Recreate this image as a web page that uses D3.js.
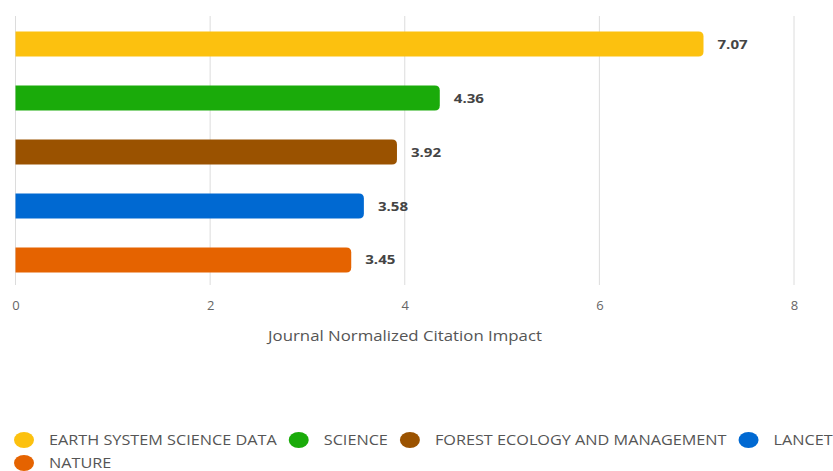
<!DOCTYPE html>
<html><head><meta charset="utf-8">
<script src="https://cdn.jsdelivr.net/npm/d3@7"></script>
<style>body{margin:0;background:#fff}svg{display:block}</style>
</head><body>
<svg id="chart" width="833" height="471"></svg>
<script>
const categories = ["EARTH SYSTEM SCIENCE DATA","SCIENCE","FOREST ECOLOGY AND MANAGEMENT","LANCET","NATURE"];
const values = [7.07, 4.36, 3.92, 3.58, 3.45];
const colors = ["#fcc10f","#1aab0a","#9a5200","#0069d2","#e56300"];
const xTicks = [0,2,4,6,8];
const xTitle = "Journal Normalized Citation Impact";

const svg = d3.select("#chart");
const font = "'Open Sans', 'Noto Sans', sans-serif";
const x = d3.scaleLinear().domain([0,8]).range([15.5, 794]);
const y = d3.scaleBand().domain(categories).range([17, 287]).paddingInner(0.537).paddingOuter(0.27);
const sx = 1.16;

// grid
svg.append("g").selectAll("line").data(xTicks).join("line")
  .attr("x1", d=>x(d)).attr("x2", d=>x(d)).attr("y1", 16).attr("y2", 285)
  .attr("stroke", "#dcdcdc").attr("stroke-width", 1);

// axis labels
const ax = d3.axisBottom(x).tickValues(xTicks).tickSize(0).tickPadding(0);
const axg = svg.append("g").attr("transform", "translate(0,301)").call(ax);
axg.select(".domain").remove();
axg.selectAll("text").attr("font-family", font).attr("font-size", 13).attr("fill", "#666").attr("dy", "0.71em");

svg.append("text").attr("transform", "translate(405,341) scale(1.2,1)").attr("text-anchor", "middle")
  .attr("font-family", font).attr("font-size", 14).attr("fill", "#555").text(xTitle);

// bars with rounded right end
const r = 5;
function barPath(d, i){
  const x0 = x(0), x1 = x(d), y0 = y(categories[i]), h = y.bandwidth();
  return `M${x0},${y0}H${x1-r}Q${x1},${y0} ${x1},${y0+r}V${y0+h-r}Q${x1},${y0+h} ${x1-r},${y0+h}H${x0}Z`;
}
svg.append("g").selectAll("path").data(values).join("path")
  .attr("d", (d,i)=>barPath(d,i)).attr("fill", (d,i)=>colors[i]);

svg.append("g").selectAll("text").data(values).join("text")
  .attr("transform", (d,i)=>`translate(${x(d)+14},${y(categories[i])+y.bandwidth()/2}) scale(${sx},1)`)
  .attr("dy", "0.35em").attr("font-family", font).attr("font-size", 13).attr("font-weight", 700)
  .attr("fill", "#444").text(d=>d.toFixed(2));

// legend
const lg = svg.append("g");
let lx = 15, ly = 440;
categories.forEach((c,i)=>{
  const g = lg.append("g");
  g.append("ellipse").attr("rx", 10).attr("ry", 8).attr("fill", colors[i]);
  const t = g.append("text").attr("transform", `translate(25,0) scale(${sx},1)`).attr("dy", "0.35em").attr("font-family", font)
    .attr("font-size", 14).attr("fill", "#555").text(c);
  const w = 25 + t.node().getComputedTextLength() * sx;
  if (lx + w > 840) { lx = 15; ly += 23; }
  g.attr("transform", `translate(${lx+9},${ly})`);
  lx += w + 22;
});
</script>
</body></html>
